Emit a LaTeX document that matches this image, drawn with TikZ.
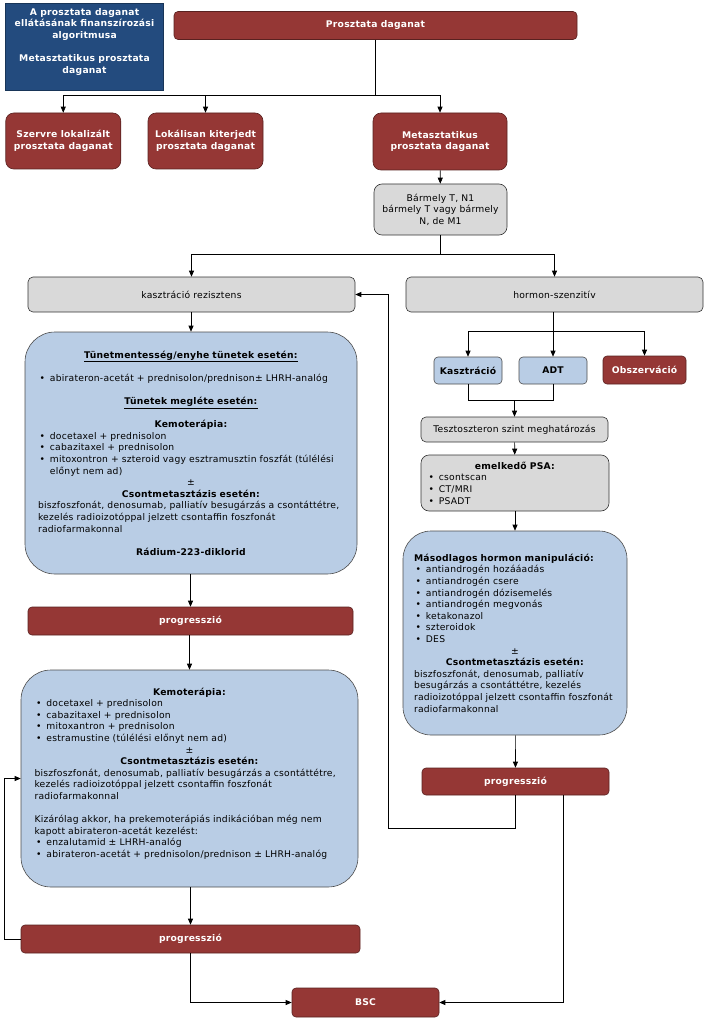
\documentclass[tikz,border=0pt]{standalone}
\usepackage{fontspec}
\setmainfont{DejaVu Sans}[LetterSpace=2.5]
\usetikzlibrary{arrows.meta}
\definecolor{dred}{HTML}{953735}
\definecolor{dblue}{HTML}{234B7E}
\definecolor{lblue}{HTML}{B9CDE5}
\definecolor{lgray}{HTML}{D9D9D9}
\setlength{\parindent}{0pt}
\newcommand{\bl}{\hspace*{1.5pt}\textbullet\hspace{5pt}}
\newcommand{\ind}{\hphantom{\hspace*{1.5pt}\textbullet\hspace{5pt}}}
\newcommand{\ctrline}[1]{\makebox[\hsize][c]{#1}}
\newcommand{\fsz}{\fontsize{9.2}{11.6}\selectfont}
\tikzset{
  sz/.style 2 args={minimum width=#1pt, minimum height=#2pt},
  box/.style={draw, line width=0.6pt, inner sep=0pt, align=center, font=\fsz},
  redbox/.style={box, fill=dred, draw=dred!60!black, text=white,
    font=\fsz\bfseries, rounded corners=4pt},
  graybox/.style={box, fill=lgray, draw=black!80, rounded corners=5pt},
  bluebox/.style={box, fill=lblue, draw=black!70, rounded corners=4pt},
  bigbox/.style={bluebox, rounded corners=30pt, align=left},
  line/.style={line width=0.7pt},
  arr/.style={line, -{Triangle[length=6pt,width=5pt]}}
}
\begin{document}
\begin{tikzpicture}[x=1pt,y=-1pt]
\useasboundingbox (0,0) rectangle (711,1024);

\node[box, fill=dblue, draw=dblue!70!black, text=white, font=\fsz\bfseries, sz={158}{87}] (title) at (84.5,46.5)
  {A prosztata daganat\\ ellátásának finanszírozási\\ algoritmusa\\[11.6pt] Metasztatikus prosztata\\ daganat\\ \mbox{}};
\node[redbox, sz={403}{28}] (prost) at (375.5,25.5) {Prosztata daganat};
\node[redbox, rounded corners=8pt, sz={115}{56}] (szerv) at (63.25,141) {Szervre lokalizált\\ prosztata daganat};
\node[redbox, rounded corners=8pt, sz={115}{56}] (lokal) at (205.5,141) {Lokálisan kiterjedt\\ prosztata daganat};
\node[redbox, rounded corners=8pt, sz={134}{57}] (metasz) at (440,141.5) {Metasztatikus\\ prosztata daganat};
\node[graybox, rounded corners=8pt, sz={133}{51}] (barm) at (440.5,209.5) {Bármely T, N1\\ bármely T vagy bármely\\ N, de M1};

\node[graybox, sz={327}{35}] (kasztr) at (191.5,294.5) {kasztráció rezisztens};
\node[graybox, sz={297}{35}] (hormon) at (554.5,294.5) {hormon-szenzitív};

\node[bluebox, font=\fsz\bfseries, sz={68}{27}] (kaszt) at (468,370.5) {Kasztráció};
\node[bluebox, font=\fsz\bfseries, sz={68}{27}] (adt) at (553,370.5) {ADT};
\node[redbox, sz={83}{28}] (obsz) at (644.5,370) {Obszerváció};
\node[graybox, sz={187}{25}] (teszt) at (514.5,429.5) {Tesztoszteron szint meghatározás};
\node[graybox, rounded corners=8pt, align=left, text width=176pt, sz={188}{56}] (psa) at (515,483)
  {\ctrline{\textbf{emelkedő PSA:}}\\ \bl csontscan\\ \bl CT/MRI\\ \bl PSADT};
\node[bigbox, rounded corners=28pt, text width=202pt, sz={224}{204}] (masod) at (515,633)
  {\mbox{\textbf{Másodlagos hormon manipuláció:}}\\
   \bl antiandrogén hozááadás\\
   \bl antiandrogén csere\\
   \bl antiandrogén dózisemelés\\
   \bl antiandrogén megvonás\\
   \bl ketakonazol\\
   \bl szteroidok\\
   \bl DES\\
   \ctrline{±}\\
   \ctrline{\textbf{Csontmetasztázis esetén:}}\\
   \mbox{biszfoszfonát, denosumab, palliatív}\\
   \mbox{besugárzás a csontáttétre, kezelés}\\
   \mbox{radioizotóppal jelzett csontaffin foszfonát}\\
   radiofarmakonnal};
\node[redbox, sz={187}{27}] (prog2) at (515.5,781.5) {progresszió};

\node[bigbox, text width=306pt, sz={332}{242}] (big1) at (191,453)
  {\ctrline{\underline{\textbf{Tünetmentesség/enyhe tünetek esetén:}}}\\[11.6pt]
   \mbox{\bl abirateron-acetát + prednisolon/prednison± LHRH-analóg}\\[11.6pt]
   \ctrline{\underline{\textbf{Tünetek megléte esetén:}}}\\[11.6pt]
   \ctrline{\textbf{Kemoterápia:}}\\
   \bl docetaxel + prednisolon\\
   \bl cabazitaxel + prednisolon\\
   \mbox{\bl mitoxontron + szteroid vagy esztramusztin foszfát (túlélési}\\
   \ind előnyt nem ad)\\
   \ctrline{±}\\
   \ctrline{\textbf{Csontmetasztázis esetén:}}\\
   \mbox{biszfoszfonát, denosumab, palliatív besugárzás a csontáttétre,}\\
   \mbox{kezelés radioizotóppal jelzett csontaffin foszfonát}\\
   radiofarmakonnal\\[11.6pt]
   \ctrline{\textbf{Rádium-223-diklorid}}};
\node[redbox, sz={325}{28}] (prog1) at (190.5,621) {progresszió};
\node[bigbox, text width=310pt, sz={337}{217}] (big2) at (189.5,778.5)
  {\ctrline{\textbf{Kemoterápia:}}\\
   \bl docetaxel + prednisolon\\
   \bl cabazitaxel + prednisolon\\
   \bl mitoxantron + prednisolon\\
   \bl estramustine (túlélési előnyt nem ad)\\
   \ctrline{±}\\
   \ctrline{\textbf{Csontmetasztázis esetén:}}\\
   \mbox{biszfoszfonát, denosumab, palliatív besugárzás a csontáttétre,}\\
   \mbox{kezelés radioizotóppal jelzett csontaffin foszfonát}\\
   radiofarmakonnal\\[11.6pt]
   \mbox{Kizárólag akkor, ha prekemoterápiás indikációban még nem}\\
   kapott abirateron-acetát kezelést:\\
   \bl enzalutamid ± LHRH-analóg\\
   \mbox{\bl abirateron-acetát + prednisolon/prednison ± LHRH-analóg}\\ \mbox{}};
\node[redbox, sz={339}{28}] (prog3) at (190.5,939) {progresszió};
\node[redbox, sz={147}{29}] (bsc) at (365.5,1002.5) {BSC};

\coordinate (j1) at (375.5,95);
\coordinate (j2) at (440.5,254);
\coordinate (j3) at (553,331);
\coordinate (j4) at (514.5,400);
\coordinate (c1) at (388,828);

\draw[line] (prost.south) -- (j1);
\draw[arr] (j1) -| (szerv.north);
\draw[arr] (j1) -| (lokal.north);
\draw[arr] (j1) -| (metasz.north);
\draw[arr] (metasz) -- (barm);
\draw[line] (barm.south) -- (j2);
\draw[arr] (j2) -| (kasztr.north);
\draw[arr] (j2) -| (hormon.north);

\draw[line] (hormon.south -| j3) -- (j3);
\draw[arr] (j3) -- (adt.north);
\draw[arr] (j3) -| (kaszt.north);
\draw[arr] (j3) -| (obsz.north);
\draw[line] (kaszt.south) -- (kaszt.south |- j4) -- (adt.south |- j4) -- (adt.south);
\draw[arr] (j4) -- (teszt.north);
\draw[arr] (teszt) -- (psa);
\draw[arr] (psa) -- (masod);
\draw[arr] (masod) -- (prog2);
\draw[arr] (prog2.south) -- (prog2.south |- c1) -- (c1) |- (kasztr.east);
\draw[arr] ([xshift=47.5pt]prog2.south) |- (bsc.east);

\draw[arr] (kasztr.south -| big1.north) -- (big1.north);
\draw[arr] (big1.south -| prog1.north) -- (prog1.north);
\draw[arr] (prog1.south -| big2.north) -- (big2.north);
\draw[arr] (big2.south -| prog3.north) -- (prog3.north);
\draw[arr] (prog3.west) -- ++(-16,0) |- (big2.west);
\draw[arr] (prog3.south) |- (bsc.west);
\end{tikzpicture}
\end{document}
